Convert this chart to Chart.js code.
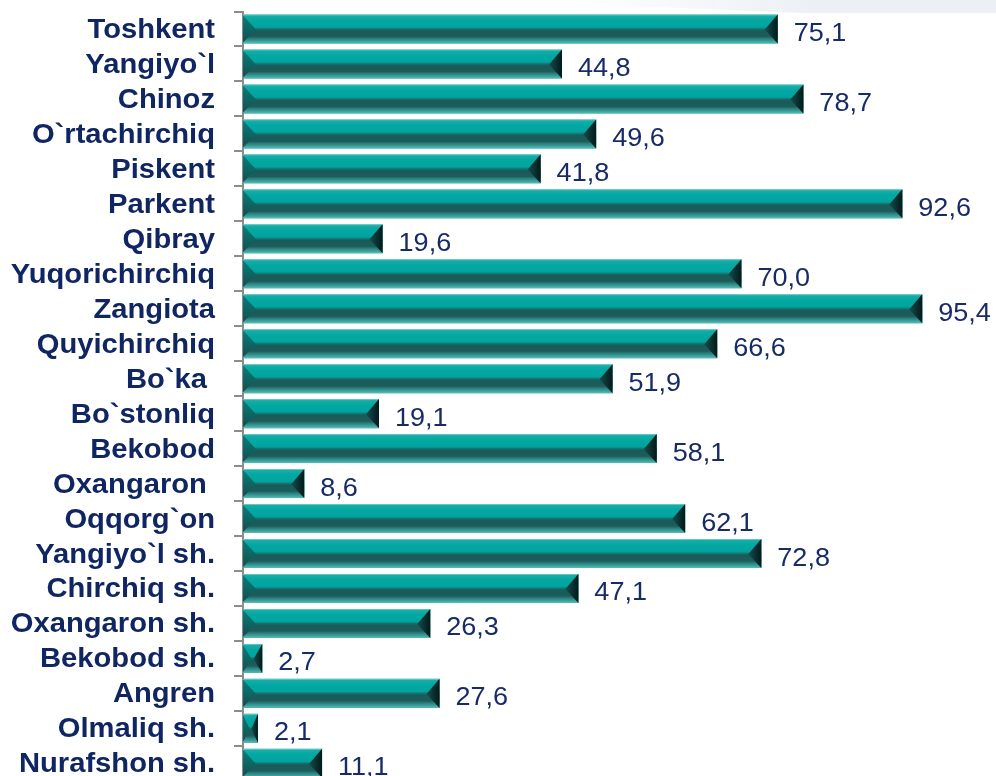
<!DOCTYPE html>
<html>
<head>
<meta charset="utf-8">
<script src="https://cdn.jsdelivr.net/npm/chart.js@4/dist/chart.umd.min.js"></script>
<style>
  html, body { margin: 0; padding: 0; background: #ffffff; overflow: hidden; }
  #wrap { position: relative; width: 996px; height: 790px; }
</style>
</head>
<body>
<div id="wrap"><canvas id="chart"></canvas></div>
<script>
// Districts and towns
const districts = [
  'Toshkent', 'Yangiyo`l', 'Chinoz', 'O`rtachirchiq', 'Piskent', 'Parkent',
  'Qibray', 'Yuqorichirchiq', 'Zangiota', 'Quyichirchiq', 'Bo`ka ', 'Bo`stonliq',
  'Bekobod', 'Oxangaron ', 'Oqqorg`on', 'Yangiyo`l sh.', 'Chirchiq sh.',
  'Oxangaron sh.', 'Bekobod sh.', 'Angren', 'Olmaliq sh.', 'Nurafshon sh.'
];

// Indicator value per district
const values = [
  75.1, 44.8, 78.7, 49.6, 41.8, 92.6,
  19.6, 70.0, 95.4, 66.6, 51.9, 19.1,
  58.1, 8.6, 62.1, 72.8, 47.1,
  26.3, 2.7, 27.6, 2.1, 11.1
];

const AXIS_GREY = '#8c8c8c';
const LABEL_COLOR = '#0f2663';
const VALUE_COLOR = '#172b66';

function fmt(v) {
  return v.toFixed(1).replace('.', ',');
}

// Faint decorative band at the top right
const backdrop = {
  id: 'backdrop',
  beforeDraw(chart) {
    const ctx = chart.ctx;
    ctx.save();
    const g = ctx.createLinearGradient(560, 0, 820, 0);
    g.addColorStop(0, 'rgba(236,240,244,0)');
    g.addColorStop(1, 'rgba(236,240,244,1)');
    ctx.fillStyle = g;
    ctx.beginPath();
    ctx.moveTo(520, 0);
    ctx.lineTo(996, 0);
    ctx.lineTo(996, 13);
    ctx.lineTo(800, 13);
    ctx.quadraticCurveTo(660, 8, 520, 0);
    ctx.closePath();
    ctx.fill();
    ctx.restore();
  }
};

// Bevelled teal bars, category labels and value labels
const bevelBars = {
  id: 'bevelBars',
  afterDatasetsDraw(chart) {
    const ctx = chart.ctx;
    const meta = chart.getDatasetMeta(0);
    const yScale = chart.scales.y;
    ctx.save();
    meta.data.forEach((el, i) => {
      const L = el.base, R = el.x;
      const T = el.y - el.height / 2, B = el.y + el.height / 2;
      const w = R - L, h = B - T;
      const b = Math.min(13, w * 0.45);

      // face
      const g = ctx.createLinearGradient(0, T, 0, B);
      g.addColorStop(0.00, '#8ad4d0');
      g.addColorStop(0.05, '#18aca7');
      g.addColorStop(0.20, '#03a8a3');
      g.addColorStop(0.44, '#02a39e');
      g.addColorStop(0.50, '#137470');
      g.addColorStop(0.56, '#1a5b5a');
      g.addColorStop(0.76, '#1c5c5b');
      g.addColorStop(0.82, '#287a77');
      g.addColorStop(0.92, '#3aa09b');
      g.addColorStop(1.00, '#5cbcb7');
      ctx.fillStyle = g;
      ctx.fillRect(L, T, w, h);

      // left bevel
      const gl = ctx.createLinearGradient(0, T, 0, B);
      gl.addColorStop(0, '#0a7e7a');
      gl.addColorStop(0.5, '#0c6764');
      gl.addColorStop(1, '#1a4a4a');
      ctx.fillStyle = gl;
      ctx.beginPath();
      ctx.moveTo(L, T + 1);
      ctx.lineTo(L + b, T + h * 0.52);
      ctx.lineTo(L, B - 1);
      ctx.closePath();
      ctx.fill();

      // right bevel
      const gr = ctx.createLinearGradient(R - b, 0, R, 0);
      gr.addColorStop(0, '#184c4c');
      gr.addColorStop(1, '#021a1a');
      ctx.fillStyle = gr;
      ctx.beginPath();
      ctx.moveTo(R, T);
      ctx.lineTo(R - b, T + h * 0.52);
      ctx.lineTo(R, B);
      ctx.closePath();
      ctx.fill();

      // value label
      ctx.fillStyle = VALUE_COLOR;
      ctx.font = '26px "Liberation Sans", Arial, sans-serif';
      ctx.textAlign = 'left';
      ctx.textBaseline = 'alphabetic';
      ctx.save();
      ctx.translate(R + 16, el.y + 12);
      ctx.scale(1.04, 1);
      ctx.fillText(fmt(values[i]), 0, 0);
      ctx.restore();
    });

    // category labels
    ctx.fillStyle = LABEL_COLOR;
    ctx.font = 'bold 27px "Liberation Sans", Arial, sans-serif';
    ctx.textAlign = 'right';
    ctx.textBaseline = 'alphabetic';
    districts.forEach((name, i) => {
      const y = yScale.getPixelForValue(i);
      ctx.save();
      ctx.translate(215, y + 9);
      ctx.scale(1.08, 1);
      ctx.fillText(name, 0, 0);
      ctx.restore();
    });
    ctx.restore();
  }
};

new Chart(document.getElementById('chart'), {
  type: 'bar',
  data: {
    labels: districts,
    datasets: [{
      data: values,
      backgroundColor: '#03a7a2',
      borderWidth: 0,
      barPercentage: 0.83,
      categoryPercentage: 1.0
    }]
  },
  options: {
    indexAxis: 'y',
    responsive: true,
    maintainAspectRatio: false,
    animation: false,
    devicePixelRatio: 1,
    layout: { padding: { top: 11.5, right: 41, bottom: 9.2, left: 0 } },
    plugins: {
      legend: { display: false },
      tooltip: { enabled: false }
    },
    scales: {
      x: {
        display: false,
        min: 0,
        max: 100
      },
      y: {
        offset: true,
        afterFit(scale) { scale.width = 243; },
        ticks: { display: false },
        grid: {
          display: true,
          offset: true,
          drawOnChartArea: false,
          drawTicks: true,
          tickLength: 9,
          color: AXIS_GREY,
          lineWidth: 2
        },
        border: { display: true, color: AXIS_GREY, width: 2 }
      }
    }
  },
  plugins: [backdrop, bevelBars]
});
</script>
</body>
</html>
